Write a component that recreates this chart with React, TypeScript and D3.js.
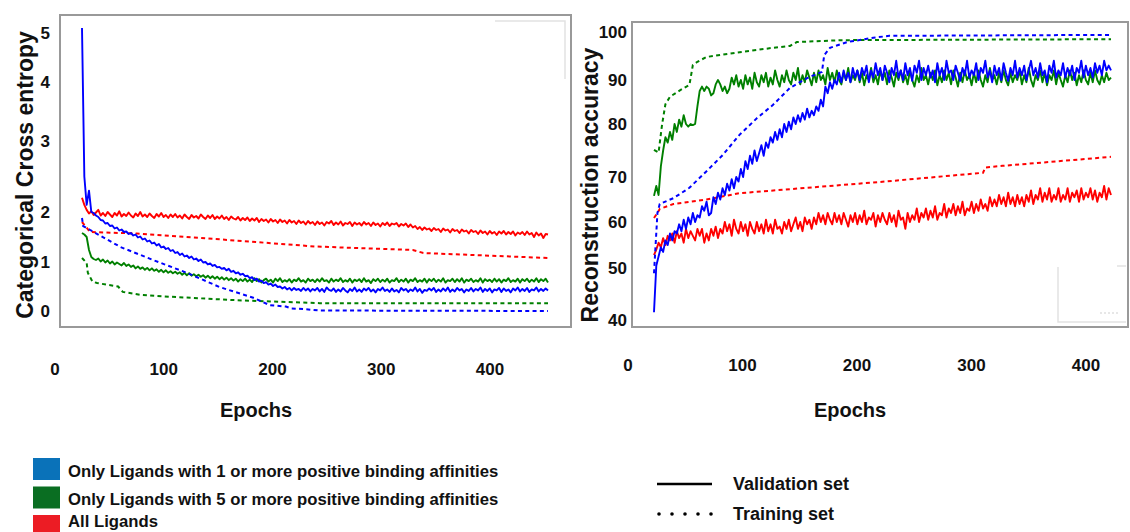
import * as React from 'react';
import * as d3 from 'd3';

// validation curves are sampled every 2 epochs
const EPOCHS = d3.range(0, 401, 2);

// ---- left panel: categorical cross entropy ----
const lossVal1 = [
  5.1, 2.5, 2.1, 2.3, 2.0, 1.98, 1.93, 1.9, 1.84, 1.83,
  1.77, 1.78, 1.72, 1.73, 1.67, 1.69, 1.63, 1.65, 1.6, 1.61,
  1.56, 1.58, 1.53, 1.55, 1.49, 1.51, 1.45, 1.47, 1.41, 1.43,
  1.37, 1.39, 1.33, 1.36, 1.29, 1.31, 1.26, 1.28, 1.22, 1.24,
  1.18, 1.2, 1.14, 1.17, 1.11, 1.13, 1.08, 1.11, 1.05, 1.07,
  1.02, 1.05, 0.99, 1.0, 0.95, 0.97, 0.92, 0.94, 0.89, 0.9,
  0.86, 0.88, 0.83, 0.86, 0.8, 0.82, 0.77, 0.79, 0.74, 0.76,
  0.71, 0.72, 0.67, 0.69, 0.63, 0.66, 0.6, 0.62, 0.57, 0.59,
  0.54, 0.56, 0.51, 0.54, 0.49, 0.5, 0.46, 0.49, 0.44, 0.47,
  0.42, 0.47, 0.43, 0.45, 0.41, 0.47, 0.42, 0.46, 0.4, 0.45,
  0.42, 0.47, 0.4, 0.45, 0.39, 0.48, 0.43, 0.41, 0.46, 0.39,
  0.44, 0.4, 0.47, 0.42, 0.38, 0.45, 0.41, 0.48, 0.4, 0.44,
  0.39, 0.46, 0.42, 0.47, 0.4, 0.44, 0.38, 0.45, 0.42, 0.48,
  0.41, 0.44, 0.39, 0.46, 0.4, 0.43, 0.38, 0.47, 0.42, 0.45,
  0.39, 0.44, 0.41, 0.48, 0.4, 0.45, 0.37, 0.43, 0.41, 0.46,
  0.42, 0.47, 0.39, 0.44, 0.4, 0.46, 0.41, 0.48, 0.39, 0.44,
  0.4, 0.47, 0.42, 0.45, 0.38, 0.44, 0.41, 0.47, 0.4, 0.45,
  0.42, 0.48, 0.39, 0.45, 0.41, 0.46, 0.38, 0.44, 0.42, 0.47,
  0.39, 0.46, 0.41, 0.44, 0.38, 0.46, 0.42, 0.48, 0.4, 0.45,
  0.41, 0.47, 0.39, 0.44, 0.42, 0.48, 0.4, 0.45, 0.41, 0.46,
  0.42,
];
const lossVal5 = [
  1.58, 1.55, 1.5, 1.24, 1.1, 1.06, 1.04, 1.07, 1.01, 1.05,
  0.99, 1.03, 0.97, 1.01, 0.95, 0.99, 0.96, 0.93, 0.98, 0.92,
  0.95, 0.9, 0.93, 0.87, 0.91, 0.86, 0.89, 0.84, 0.88, 0.83,
  0.87, 0.82, 0.85, 0.8, 0.84, 0.79, 0.83, 0.78, 0.81, 0.77,
  0.8, 0.76, 0.79, 0.74, 0.78, 0.73, 0.77, 0.72, 0.75, 0.71,
  0.74, 0.7, 0.73, 0.68, 0.72, 0.67, 0.71, 0.66, 0.7, 0.65,
  0.69, 0.64, 0.68, 0.63, 0.67, 0.62, 0.66, 0.6, 0.65, 0.61,
  0.66, 0.6, 0.64, 0.59, 0.67, 0.61, 0.65, 0.58, 0.63, 0.66,
  0.6, 0.64, 0.58, 0.66, 0.61, 0.67, 0.59, 0.63, 0.6, 0.65,
  0.58, 0.64, 0.61, 0.67, 0.6, 0.63, 0.58, 0.66, 0.61, 0.64,
  0.59, 0.65, 0.6, 0.67, 0.61, 0.63, 0.58, 0.66, 0.6, 0.64,
  0.61, 0.67, 0.59, 0.63, 0.6, 0.66, 0.58, 0.64, 0.61, 0.65,
  0.59, 0.67, 0.6, 0.63, 0.57, 0.65, 0.61, 0.66, 0.59, 0.64,
  0.6, 0.66, 0.58, 0.63, 0.61, 0.67, 0.59, 0.64, 0.6, 0.66,
  0.58, 0.64, 0.61, 0.67, 0.59, 0.63, 0.6, 0.66, 0.58, 0.65,
  0.61, 0.66, 0.59, 0.64, 0.6, 0.67, 0.58, 0.63, 0.61, 0.66,
  0.59, 0.65, 0.6, 0.67, 0.58, 0.64, 0.61, 0.66, 0.59, 0.63,
  0.6, 0.67, 0.58, 0.65, 0.61, 0.64, 0.59, 0.66, 0.6, 0.65,
  0.58, 0.64, 0.61, 0.67, 0.59, 0.63, 0.6, 0.66, 0.58, 0.65,
  0.61, 0.66, 0.59, 0.64, 0.6, 0.67, 0.59, 0.65, 0.61, 0.66,
  0.58,
];
const lossValAll = [
  2.2, 2.1, 2.03, 1.97, 2.01, 1.94, 1.99, 2.03, 1.93, 1.98,
  1.92, 2.0, 1.95, 1.9, 1.98, 1.93, 2.01, 1.91, 1.96, 1.92,
  1.99, 1.93, 1.89, 1.97, 1.92, 2.0, 1.91, 1.95, 1.9, 1.97,
  1.92, 1.88, 1.96, 1.91, 1.98, 1.9, 1.94, 1.88, 1.95, 1.9,
  1.96, 1.89, 1.93, 1.87, 1.95, 1.9, 1.86, 1.94, 1.89, 1.92,
  1.87, 1.95, 1.9, 1.86, 1.93, 1.88, 1.94, 1.86, 1.91, 1.87,
  1.93, 1.86, 1.9, 1.84, 1.91, 1.87, 1.85, 1.9, 1.83, 1.88,
  1.84, 1.89, 1.82, 1.87, 1.83, 1.88, 1.8, 1.86, 1.82, 1.85,
  1.79, 1.86, 1.81, 1.84, 1.78, 1.85, 1.8, 1.83, 1.77, 1.84,
  1.79, 1.82, 1.76, 1.83, 1.78, 1.81, 1.75, 1.82, 1.77, 1.8,
  1.74, 1.81, 1.76, 1.79, 1.73, 1.8, 1.77, 1.82, 1.74, 1.79,
  1.75, 1.81, 1.73, 1.78, 1.76, 1.8, 1.72, 1.79, 1.75, 1.78,
  1.73, 1.8, 1.75, 1.78, 1.72, 1.79, 1.74, 1.77, 1.71, 1.78,
  1.74, 1.79, 1.72, 1.77, 1.75, 1.78, 1.71, 1.76, 1.73, 1.77,
  1.7, 1.75, 1.69, 1.72, 1.66, 1.7, 1.64, 1.69, 1.65, 1.67,
  1.62, 1.68, 1.64, 1.66, 1.6, 1.67, 1.63, 1.65, 1.59, 1.66,
  1.62, 1.64, 1.58, 1.65, 1.61, 1.63, 1.57, 1.64, 1.6, 1.62,
  1.56, 1.63, 1.58, 1.61, 1.55, 1.62, 1.57, 1.6, 1.54, 1.61,
  1.57, 1.62, 1.55, 1.6, 1.56, 1.61, 1.53, 1.59, 1.56, 1.6,
  1.54, 1.61, 1.55, 1.58, 1.5, 1.59, 1.53, 1.57, 1.48, 1.56,
  1.55,
];
// training curves: [epoch, value] points along the dashed lines
const lossTrain1: [number, number][] = [
  [0, 1.88], [1, 1.72], [7, 1.64], [33, 1.3], [61, 1.04], [90, 0.78], [118, 0.49],
  [147, 0.27], [161, 0.12], [175, 0.09], [180, 0.05], [190, 0.04], [204, 0.01], [400, 0.0],
];
const lossTrain5: [number, number][] = [
  [0, 1.08], [4, 0.98], [5, 0.78], [9, 0.6], [13, 0.57], [31, 0.5], [35, 0.39],
  [50, 0.33], [76, 0.29], [133, 0.22], [204, 0.16], [400, 0.16],
];
const lossTrainAll: [number, number][] = [
  [0, 1.8], [7, 1.6], [47, 1.57], [120, 1.45], [200, 1.31], [284, 1.24],
  [293, 1.18], [400, 1.08],
];

// ---- right panel: reconstruction accuracy ----
const accVal1 = [
  41.5, 50.5, 52.5, 54.5, 53.5, 56, 55, 57.5, 56, 58,
  57.5, 59.5, 58, 60.5, 58.5, 61, 59.5, 62, 60, 61.5,
  61, 63.5, 62.5, 64.5, 61.5, 62, 65.5, 64, 66.5, 65,
  67.5, 66, 68.5, 67, 69.5, 67.5, 70, 69, 71.5, 70,
  73, 71.5, 74, 72.5, 75, 73, 74.5, 76, 74, 76.5,
  75.5, 77.5, 76.5, 78.5, 77, 79, 77.5, 80, 78.5, 80.5,
  79, 81.5, 80, 82, 80.5, 82.5, 81, 83.5, 81.5, 83,
  82, 84, 83, 85.5, 84, 88.5, 87, 89.5, 88, 90,
  89, 91.5, 89.5, 92, 90, 91.5, 89.5, 92.5, 90.5, 92,
  90, 92.5, 91, 93, 89.5, 92, 90.5, 93.5, 91, 92.5,
  90, 93, 91.5, 89.5, 92.5, 91, 94, 90.5, 92, 90,
  93.5, 91, 92.5, 89.8, 93, 91.5, 94, 90, 92.5, 91,
  93, 90.5, 92, 89.5, 93.5, 91, 92.5, 90, 94, 91.5,
  92, 90, 93, 91.5, 89.8, 92.5, 91, 94, 90.5, 92,
  91, 93.5, 90, 92.5, 91.5, 94, 90.5, 92, 89.5, 93,
  91, 92.5, 90, 93.5, 91.5, 89.8, 92.5, 91, 94, 90.5,
  92.5, 91, 93, 90, 92, 94, 91, 92.5, 90.5, 93.5,
  91, 92, 89.5, 93, 91.5, 94, 90.5, 92, 91, 93.5,
  90.5, 92.5, 91, 93, 90, 92.5, 91.5, 94, 90.5, 93,
  91, 92.5, 90.5, 93.5, 91.5, 93, 91, 94, 92, 93,
  92,
];
const accVal5 = [
  65.8, 68, 66, 72, 75, 77.5, 76.5, 78.5, 77, 80,
  78.5, 81, 79.5, 82, 80, 79.5, 80, 79.8, 80, 84,
  87.5, 88.5, 87.5, 88.5, 88, 86.5, 87, 89, 90, 89,
  87.5, 88.5, 87, 88, 90.5, 89, 91, 88.5, 90, 88,
  91, 89, 90.5, 88, 91.5, 89.5, 88.5, 91, 89.5, 91.5,
  88.5, 90.5, 89, 92, 90, 88.5, 91, 89.5, 92, 90,
  89, 91.5, 90, 92.5, 89, 91, 89.5, 92, 90.5, 88.8,
  91.5, 89.5, 92, 90, 91, 89, 92.5, 90, 91.5, 89.5,
  92, 90, 89, 91.5, 90, 92.5, 89.5, 91, 90, 92,
  89.5, 91.5, 88.8, 91, 90, 92.5, 89.5, 91, 89, 92,
  90, 91.5, 89, 92, 90.5, 88.5, 91.5, 90, 92, 89.5,
  91, 89, 92, 90, 88.5, 91, 89.5, 92.5, 90, 91,
  89, 91.5, 90, 92, 88.8, 91, 89.5, 92, 90, 91.5,
  89, 92, 90.5, 88.5, 91.5, 89.5, 92, 90, 91, 88.8,
  91.5, 89.5, 92, 90, 88.5, 91, 89.5, 92.5, 90, 91,
  89, 91.5, 89.5, 92, 90, 88.8, 91.5, 89.5, 91, 90,
  92, 89, 91, 89.5, 92.5, 90, 88.5, 91, 90, 92,
  89.5, 91.5, 88.8, 91, 90, 92, 89, 91.5, 90, 88.5,
  91, 89.5, 92, 90, 91.5, 88.8, 91, 89.5, 92, 90,
  89, 91.5, 89.5, 92, 90, 89, 91, 89.5, 91.5, 90,
  90.5,
];
const accValAll = [
  52.8, 54, 55.5, 54.5, 56.5, 55, 57, 56, 57.5, 55.5,
  58, 56.5, 57.5, 55.5, 58.5, 56.5, 58, 57, 56, 58.5,
  57, 58.5, 55.5, 57.5, 56, 58.5, 57, 59, 56.5, 58.5,
  57.5, 60, 58, 59.5, 57, 60.5, 58.5, 57.5, 60, 58,
  59.5, 57, 60, 58.5, 57.5, 60, 58, 59.5, 57.5, 60.5,
  58, 59.5, 57.5, 60.5, 58.5, 59, 57.5, 60, 58.5, 60.5,
  58, 59.5, 61, 58.5, 60, 58, 61, 59.5, 60.5, 58.5,
  61, 59.5, 62, 60, 61.5, 59.5, 62, 60.5, 59.5, 62,
  60, 61.5, 59.5, 62, 60.5, 59, 61.5, 60, 62, 59.5,
  61.5, 60, 62.5, 59.5, 61, 60.5, 62, 59, 61.5, 60,
  62, 60.5, 59.5, 62, 60, 61.5, 59, 62.5, 60.5, 61,
  58.5, 62, 60, 61.5, 60.5, 63, 60, 62, 61, 63,
  60.5, 62.5, 61, 63.5, 60.5, 62, 61.5, 64, 61, 63,
  62, 64, 61.5, 63.5, 62, 64.5, 61.5, 63, 62.5, 64.5,
  62, 64, 62.5, 65, 63, 64, 62.5, 65.5, 63.5, 65,
  63.5, 66, 64, 65.5, 63.5, 66.5, 64, 65.5, 63.5, 66,
  64, 65.5, 63.5, 66, 64.5, 67, 64, 66, 65, 67.5,
  64.5, 66.5, 65, 67.5, 64.5, 66, 65, 67.5, 64.5, 66,
  65, 67.5, 64.5, 66.5, 65.5, 67, 64.5, 67.5, 65, 66.5,
  65.5, 67.5, 65, 67, 64.5, 66.5, 65.5, 68, 65, 67.5,
  66,
];
const accTrain1: [number, number][] = [
  [0, 49], [3, 62], [5, 64], [17, 65.3], [31, 67.6], [46, 71.1], [60, 74.1],
  [75, 78], [90, 81.3], [104, 84.3], [119, 88.2], [134, 90.4], [147, 91.7],
  [149, 95.2], [154, 96.7], [169, 97.9], [192, 98.8], [206, 99.2], [400, 99.4],
];
const accTrain5: [number, number][] = [
  [0, 75.1], [4, 74.6], [7, 79.8], [10, 84.5], [14, 86.2], [23, 87.7], [31, 88.9],
  [34, 93.1], [38, 93.8], [46, 94.8], [75, 95.8], [104, 96.7], [119, 97.1],
  [125, 97.9], [163, 98.3], [400, 98.5],
];
const accTrainAll: [number, number][] = [
  [0, 60.9], [3, 62], [5, 62.9], [17, 64], [46, 65], [75, 66.4], [134, 67.6],
  [198, 68.9], [288, 70.8], [290, 71.8], [305, 72.1], [400, 73.8],
];

const X_TICKS = [0, 100, 200, 300, 400];
const LOSS_TICKS = [0, 1, 2, 3, 4, 5];
const ACC_TICKS = [40, 50, 60, 70, 80, 90, 100];

const LEGEND_GROUPS = [
  'Only Ligands with 1 or more positive binding affinities',
  'Only Ligands with 5 or more positive binding affinities',
  'All Ligands',
];
const LEGEND_COLORS = ['#0a72b9', '#0a6e22', '#ec1c24'];
const LINE_COLORS = { one: '#0000ff', five: '#008000', all: '#ff0000' };

const FONT = '"Liberation Sans", Arial, Helvetica, sans-serif';

const Panel = ({ frame, dataRange, labelRange, yScale, yTicks, yTickX, xTickY, epochsX, yLabel, yLabelX, yLabelY, series }) => {
  const x = d3.scaleLinear().domain([0, 400]).range(dataRange);
  // the tick labels of the original figure sit a little off the plotted data
  const xLab = d3.scaleLinear().domain([0, 400]).range(labelRange);
  const valLine = d3
    .line<number>()
    .x((d, i) => x(EPOCHS[i]))
    .y((d) => yScale(d));
  const trainLine = d3
    .line<[number, number]>()
    .x((d) => x(d[0]))
    .y((d) => yScale(d[1]));
  const [fx0, fy0, fx1, fy1] = frame;
  return (
    <g fontFamily={FONT} fontWeight='bold' fill='#111'>
      <rect x={fx0} y={fy0} width={fx1 - fx0} height={fy1 - fy0} fill='none' stroke='#999' strokeWidth={2} />
      {yTicks.map((t) => (
        <text key={t} x={yTickX} y={yScale(t)} dy='0.35em' textAnchor='end' fontSize={17}>
          {t}
        </text>
      ))}
      {X_TICKS.map((t) => (
        <text key={t} x={xLab(t)} y={xTickY} textAnchor='middle' fontSize={17}>
          {t}
        </text>
      ))}
      <text x={epochsX} y={417} textAnchor='middle' fontSize={20}>
        Epochs
      </text>
      <text transform={`translate(${yLabelX},${yLabelY}) rotate(-90)`} textAnchor='middle' fontSize={23}>
        {yLabel}
      </text>
      {series.map((s) => (
        <g key={s.key}>
          <path d={trainLine(s.train)} fill='none' stroke={s.color} strokeWidth={2} strokeDasharray='4 3.3' />
          <path d={valLine(s.values)} fill='none' stroke={s.color} strokeWidth={1.9} strokeLinejoin='round' />
        </g>
      ))}
    </g>
  );
};

const App = () => {
  const lossY = d3.scaleLinear().domain(LOSS_TICKS).range([311, 262, 212, 141, 82, 33]);
  const accY = d3.scaleLinear().domain(ACC_TICKS).range([320, 268, 222, 177, 124, 80, 32]);

  const lossSeries = [
    { key: 'all', color: LINE_COLORS.all, values: lossValAll, train: lossTrainAll },
    { key: 'five', color: LINE_COLORS.five, values: lossVal5, train: lossTrain5 },
    { key: 'one', color: LINE_COLORS.one, values: lossVal1, train: lossTrain1 },
  ];
  const accSeries = [
    { key: 'all', color: LINE_COLORS.all, values: accValAll, train: accTrainAll },
    { key: 'five', color: LINE_COLORS.five, values: accVal5, train: accTrain5 },
    { key: 'one', color: LINE_COLORS.one, values: accVal1, train: accTrain1 },
  ];
  const legendBaselines = [477, 505, 527];

  return (
    <svg width={1130} height={532} style={{ position: 'absolute', left: 0, top: 0, background: '#fff' }}>
      <rect width={1130} height={532} fill='#fff' />
      {/* faint leftovers of the original legend boxes */}
      <path d='M495,21 H565 V79' fill='none' stroke='#e2e2e2' strokeWidth={1.5} />
      <path d='M1058,267 V322 H1126 M1117,266 H1126' fill='none' stroke='#e2e2e2' strokeWidth={1.5} />
      <path d='M1100,313 H1120' stroke='#cfcfcf' strokeWidth={1.2} strokeDasharray='2 2' />

      <Panel
        frame={[60, 15, 571, 327]}
        dataRange={[82, 548]}
        labelRange={[55, 490]}
        yScale={lossY}
        yTicks={LOSS_TICKS}
        yTickX={50}
        xTickY={375}
        epochsX={256}
        yLabel='Categorical Cross entropy'
        yLabelX={33}
        yLabelY={175}
        series={lossSeries}
      />
      <Panel
        frame={[632, 22, 1128, 327]}
        dataRange={[654, 1111]}
        labelRange={[628, 1086]}
        yScale={accY}
        yTicks={ACC_TICKS}
        yTickX={627}
        xTickY={371}
        epochsX={850}
        yLabel='Reconstruction accuracy'
        yLabelX={598}
        yLabelY={185}
        series={accSeries}
      />

      <g fontFamily={FONT} fontWeight='bold' fill='#111'>
        {LEGEND_GROUPS.map((name, i) => (
          <g key={name}>
            <rect x={33} y={458 + i * 28.5} width={27} height={22} fill={LEGEND_COLORS[i]} />
            <text x={68} y={legendBaselines[i]} fontSize={16.7}>
              {name}
            </text>
          </g>
        ))}
        <line x1={657} x2={712} y1={484} y2={484} stroke='#000' strokeWidth={2.5} />
        {d3.range(5).map((k) => (
          <circle key={k} cx={659 + k * 13} cy={514} r={1.8} fill='#000' />
        ))}
        <text x={733} y={490} fontSize={18}>
          Validation set
        </text>
        <text x={733} y={520} fontSize={18}>
          Training set
        </text>
      </g>
    </svg>
  );
};

export default App;
